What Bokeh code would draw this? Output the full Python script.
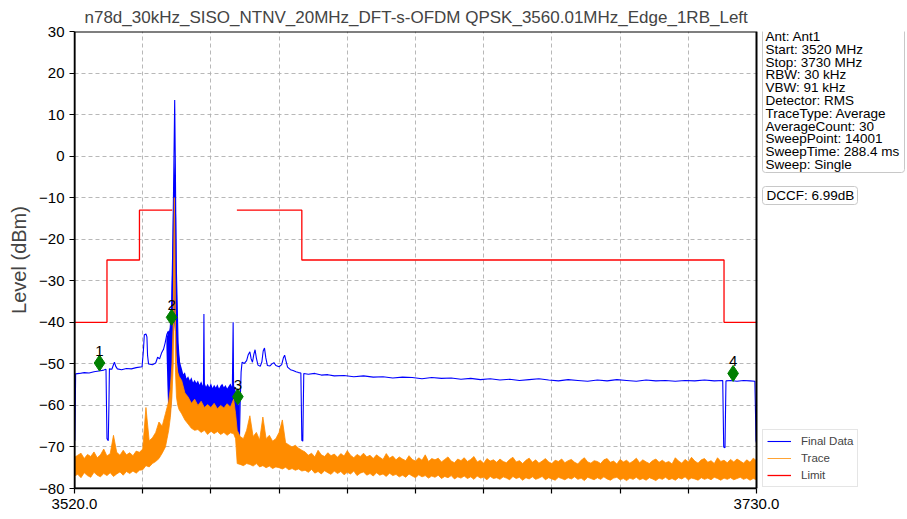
from bokeh.plotting import figure
from bokeh.models import FixedTicker, Legend, LegendItem, Label, Range1d, BoxAnnotation
from bokeh.core.properties import value
from bokeh.embed import file_html
from bokeh.resources import INLINE

FONT = "Liberation Sans"
TITLE = "n78d_30kHz_SISO_NTNV_20MHz_DFT-s-OFDM QPSK_3560.01MHz_Edge_1RB_Left"

x_ticks = [3520, 3541, 3562, 3583, 3604, 3625, 3646, 3667, 3688, 3709, 3730]
x_tick_labels = ["3520.0", "", "", "", "", "", "", "", "", "", "3730.0"]
y_ticks = [-80, -70, -60, -50, -40, -30, -20, -10, 0, 10, 20, 30]
y_tick_labels = ["\u221280", "\u221270", "\u221260", "\u221250", "\u221240", "\u221230",
                 "\u221220", "\u221210", "0", "10", "20", "30"]

info_lines = ["Ant: Ant1", "Start: 3520 MHz", "Stop: 3730 MHz", "RBW: 30 kHz", "VBW: 91 kHz",
              "Detector: RMS", "TraceType: Average", "AverageCount: 30", "SweepPoint: 14001",
              "SweepTime: 288.4 ms", "Sweep: Single"]
dccf_text = "DCCF: 6.99dB"

# Limit line (gap over the channel)
limit_f = [3520, 3530, 3530, 3540, 3540, 3550.1, float("nan"), 3570, 3590, 3590, 3720, 3720, 3730]
limit_lvl = [-40, -40, -25, -25, -13, -13, float("nan"), -13, -13, -25, -25, -40, -40]

# Final Data (blue) line
blue_f = [3520.0, 3520.1, 3520.25, 3520.35, 3521.5, 3523, 3524.5, 3526, 3527.5, 3529, 3529.7, 3529.85,
          3530.0, 3530.4, 3530.6, 3530.75, 3531.5, 3532.0, 3532.3, 3532.7, 3533.2, 3534.5, 3536,
          3537.5, 3539, 3540.8, 3541.2, 3541.5, 3542.0, 3542.3, 3542.5, 3542.8, 3544.0, 3545.0,
          3545.6, 3546.2, 3546.8, 3547.4, 3547.9, 3548.4, 3548.8, 3549.2, 3549.5, 3549.9, 3550.3,
          3550.6, 3550.85, 3551.05, 3551.3, 3551.6, 3551.9, 3552.2, 3552.6, 3553.5, 3555, 3557,
          3559.0, 3559.7, 3559.85, 3560.0, 3562, 3564, 3566, 3568.6, 3568.85, 3569.0, 3569.6,
          3570.0, 3570.3, 3570.8, 3571.0, 3571.3, 3571.6, 3572.3, 3573.0, 3573.5, 3574.0, 3574.4,
          3574.8, 3575.2, 3575.6, 3576.0, 3576.5, 3577.2, 3577.7, 3578.1, 3578.5, 3578.9, 3579.4,
          3580.2, 3580.8, 3581.4, 3582.0, 3583.0, 3583.8, 3584.3, 3584.7, 3585.1, 3585.6, 3586.5,
          3587.3, 3588.2, 3589.0, 3589.7, 3589.85, 3590.0, 3590.3, 3590.45, 3590.6, 3592, 3594,
          3596, 3598, 3600, 3603, 3606, 3609, 3612, 3615, 3618, 3621, 3624, 3627, 3630, 3633, 3636,
          3639, 3642, 3645, 3648, 3651, 3654, 3657, 3660, 3663, 3666, 3669, 3672, 3675, 3678, 3681,
          3684, 3687, 3690, 3693, 3696, 3699, 3702, 3705, 3708, 3711, 3714, 3717, 3719.6, 3719.75,
          3719.9, 3720.3, 3720.45, 3720.6, 3722, 3724, 3726, 3728, 3729.5, 3729.7, 3729.85, 3730]
blue_lvl = [-66.0, -68.5, -60, -52.4, -52.3, -52.1, -52.2, -51.9, -51.7, -51.5, -51.3, -60,
            -68, -68.5, -60, -51.2, -51.3, -50.2, -49.6, -50.6, -51.2, -51.4, -51.1,
            -51.2, -50.9, -50.7, -47, -43, -42.8, -43.5, -48, -50, -50.2, -49.8,
            -48.4, -48.8, -47.4, -46.5, -45, -43, -42.2, -44.5, -41, -36, -20,
            -2, 13.5, -2, -25, -35, -45, -48.5, -52, -54, -55, -56,
            -55.5, -56, -38, -56, -56.5, -57, -57, -56, -40, -57, -58,
            -66, -68.4, -68, -60, -52, -49.6, -49.9, -49.2, -47.8, -47.1, -48.8,
            -49.6, -47.8, -46.6, -48.6, -50.3, -50.6, -49.5, -46.9, -46.2, -48.5, -50.4,
            -50.5, -50.0, -49.7, -50.4, -50.7, -50.2, -48.6, -47.9, -49.2, -50.8, -51.4,
            -51.6, -51.9, -52.1, -52.2, -60, -68.4, -68.6, -60, -52.3, -52.5, -52.3,
            -52.7, -52.6, -52.9, -52.8, -53.1, -52.9, -53.2, -53.1, -53.4, -53.2, -53.3, -53.6, -53.3, -53.5, -53.4,
            -53.7, -53.5, -53.8, -53.6, -53.9, -53.7, -54.0, -53.8, -53.6, -53.9, -54.1, -53.8, -54.0, -54.2, -53.9,
            -54.1, -53.8, -54.0, -54.2, -53.9, -54.1, -54.0, -54.2, -54.0, -54.1, -53.9, -54.1, -54.0, -62,
            -70, -70.2, -62, -54.1, -54.0, -54.2, -54.0, -54.1, -54.2, -62, -68.5, -69]

# Final Data noisy envelope regions (blue)
bband_f = [3548.3, 3548.6, 3548.9, 3549.2, 3549.5, 3549.8, 3550.1, 3550.4, 3550.85, 3551.3, 3551.6,
           3551.9, 3552.2, 3552.6, 3553.0, 3553.5, 3554, 3554.5, 3555, 3555.5, 3556, 3556.5, 3557,
           3557.5, 3558, 3558.5, 3559, 3559.5, 3560, 3560.5, 3561, 3561.5, 3562, 3562.5, 3563,
           3563.5, 3564, 3564.5, 3565, 3565.5, 3566, 3566.5, 3567, 3567.5, 3568, 3568.5, 3569,
           3569.5, 3570, 3570.5, 3570.9]
bband_hi = [-44, -43, -42, -42, -41, -38, -25, -10, 0, -15, -35,
            -45, -48, -50, -51, -52.5, -52, -53.5, -53, -54, -53.2, -54.5, -53.8,
            -54.6, -54, -55, -54.2, -55.2, -54.5, -55.5, -54.8, -55.6, -54.6, -55.8, -55,
            -55.7, -54.9, -55.9, -55.2, -54.8, -55.6, -55.1, -55.9, -55.3, -54.7, -55.5, -55,
            -56, -58, -60, -58]
bband_lo = [-46, -55, -62, -58, -63, -60, -52, -45, -40, -48, -50,
            -55, -58, -60, -59, -60.5, -59.5, -61, -60, -61.5, -60.5, -61, -62,
            -60.8, -61.4, -62, -61, -61.8, -60.6, -62.3, -61.2, -61.8, -60.9, -62, -61.3,
            -62.4, -61, -61.7, -62.2, -61.1, -62, -61.4, -62.3, -61.2, -61.8, -62, -63,
            -66, -68, -68.5, -68]

# Trace (orange) envelope
orange_f = [3520, 3521, 3522, 3523, 3524, 3525, 3526, 3527, 3528, 3529, 3530, 3531, 3532, 3533, 3534,
            3535, 3536, 3537, 3538, 3539, 3540, 3541, 3542, 3543, 3544, 3545, 3546, 3547, 3548,
            3548.5, 3549, 3549.5, 3550.0, 3550.4, 3550.6, 3550.75, 3550.9, 3551.1, 3551.4, 3551.8,
            3552.2, 3553,
            3554, 3555, 3556, 3557, 3558, 3559, 3560, 3561, 3562, 3563, 3564, 3565, 3566, 3567,
            3568, 3569, 3569.6, 3570.1, 3571, 3572, 3573, 3574, 3575, 3576, 3577, 3578, 3579,
            3580, 3581, 3582, 3583, 3584, 3585, 3586, 3587, 3588, 3589, 3590] + \
           [3591, 3592, 3593, 3594, 3595, 3596, 3597, 3598, 3599, 3600,
            3601, 3602, 3603, 3604, 3605, 3606, 3607, 3608, 3609, 3610,
            3611, 3612, 3613, 3614, 3615, 3616, 3617, 3618, 3619, 3620,
            3621, 3622, 3623, 3624, 3625, 3626, 3627, 3628, 3629, 3630,
            3631, 3632, 3633, 3634, 3635, 3636, 3637, 3638, 3639, 3640,
            3641, 3642, 3643, 3644, 3645, 3646, 3647, 3648, 3649, 3650,
            3651, 3652, 3653, 3654, 3655, 3656, 3657, 3658, 3659, 3660,
            3661, 3662, 3663, 3664, 3665, 3666, 3667, 3668, 3669, 3670,
            3671, 3672, 3673, 3674, 3675, 3676, 3677, 3678, 3679, 3680,
            3681, 3682, 3683, 3684, 3685, 3686, 3687, 3688, 3689, 3690,
            3691, 3692, 3693, 3694, 3695, 3696, 3697, 3698, 3699, 3700,
            3701, 3702, 3703, 3704, 3705, 3706, 3707, 3708, 3709, 3710,
            3711, 3712, 3713, 3714, 3715, 3716, 3717, 3718, 3719, 3720,
            3721, 3722, 3723, 3724, 3725, 3726, 3727, 3728, 3729, 3730]
orange_hi = [-72.5, -72, -71.5, -72.8, -71.8, -72.3, -71.2, -72.6, -71.9, -70.5, -72.2, -71.6, -67.2,
             -71.3, -72, -70.8, -71.9, -71.4, -72.1, -71, -71.3, -70.5, -60.5, -68.5, -67.8, -66.5,
             -64, -65, -62, -60.5, -59, -56, -50, -40, -20, -10, -20, -42, -50, -52,
             -53, -54,
             -57, -58, -59.5, -58.5, -60, -59, -60.5, -59.8, -60.5, -59.5, -60.8, -60, -60.6, -59.6,
             -60.4, -58.5, -62, -66, -67.5, -68, -66, -62.5, -67.5, -66.5, -68.3, -62.8, -68,
             -67.2, -68.6, -68, -66.5, -63.5, -69, -69.5, -70, -69.6, -70.3, -70.8] + \
            [-71.2, -72.0, -71.5, -72.4, -70.8, -71.9, -72.3, -71.4, -72.1, -71.7,
             -72.5, -71.6, -72.2, -70.9, -72.0, -72.6, -71.8, -72.3, -71.5, -72.4,
             -72.0, -72.8, -71.9, -72.5, -73.0, -71.6, -72.7, -72.2, -73.1, -72.4,
             -72.9, -73.3, -72.1, -73.0, -73.4, -72.6, -73.2, -71.9, -73.5, -72.8,
             -73.1, -72.7, -73.6, -73.0, -72.4, -73.4, -73.8, -72.9, -73.3, -72.6,
             -73.5, -73.0, -72.3, -73.6, -73.2, -73.9, -72.8, -73.4, -73.1, -73.7,
             -72.9, -73.5, -73.8, -73.0, -72.5, -73.6, -73.3, -74.0, -73.2, -72.7,
             -73.7, -73.1, -73.9, -73.4, -72.8, -73.6, -74.0, -73.2, -73.5, -72.9,
             -73.8, -73.3, -73.0, -73.7, -74.1, -73.2, -72.6, -73.6, -73.9, -73.3,
             -73.5, -74.0, -73.1, -72.8, -73.7, -73.4, -74.1, -73.0, -73.6, -73.2,
             -73.9, -73.4, -72.7, -73.8, -73.1, -73.6, -74.0, -73.3, -72.9, -73.7,
             -73.2, -73.8, -73.5, -74.1, -72.6, -73.4, -73.9, -73.0, -73.6, -72.5,
             -73.4, -73.9, -73.1, -72.8, -73.7, -73.3, -74.0, -72.6, -73.5, -73.2,
             -73.8, -73.0, -73.6, -72.9, -73.4, -73.9, -73.1, -73.7, -72.7, -73.3]
orange_lo = [-77, -76.6, -77.4, -76.2, -76.9, -77.3, -76.1, -76.8, -77.2, -76.4, -76.9, -76.2, -77.1,
             -76.5, -76, -76.8, -75.9, -76.4, -75.8, -76.3, -75.6, -75.5, -74.5, -74.8, -74, -73.5,
             -72.8, -71.5, -70, -68, -66, -63, -58, -50, -35, -25, -35, -52, -58, -60,
             -61, -62,
             -63.5, -64.5, -65.5, -66, -65.8, -66.5, -66, -67, -66.2, -66.8, -66.3, -67, -66.5, -67.2,
             -66.6, -66.8, -68, -74, -74.2, -74.5, -74, -74.2, -74.6, -74, -74.8, -74.5, -75,
             -74.6, -75.2, -74.8, -75, -75.3, -74.9, -75.5, -75.2, -75.6, -75.3, -75.8] + \
            [-75.6, -76.1, -75.4, -76.3, -75.9, -76.5, -75.7, -76.2, -76.6, -75.8,
             -76.4, -75.9, -76.7, -76.1, -76.5, -75.8, -76.9, -76.3, -76.0, -76.8,
             -76.4, -77.0, -76.2, -76.8, -76.5, -77.1, -76.3, -76.9, -76.6, -77.2,
             -76.8, -77.3, -76.5, -77.0, -77.4, -76.7, -77.2, -76.9, -77.5, -77.0,
             -77.3, -76.8, -77.6, -77.1, -77.4, -76.9, -77.7, -77.2, -77.5, -77.0,
             -77.6, -77.2, -77.8, -77.0, -77.5, -77.3, -77.9, -77.1, -77.6, -77.4,
             -77.8, -77.2, -77.5, -77.9, -77.1, -77.6, -77.3, -78.0, -77.4, -77.7,
             -77.2, -77.8, -77.5, -77.1, -77.9, -77.4, -77.7, -78.0, -77.3, -77.6,
             -77.9, -77.4, -77.7, -77.2, -77.8, -77.5, -78.1, -77.3, -77.6, -77.9,
             -77.4, -77.8, -77.2, -77.7, -78.0, -77.5, -77.3, -77.9, -77.6, -78.1,
             -77.5, -77.8, -77.3, -77.9, -77.6, -78.0, -77.4, -77.7, -78.1, -77.5,
             -77.8, -77.3, -77.9, -77.6, -78.0, -77.4, -77.7, -77.2, -77.9, -77.5,
             -77.7, -78.0, -77.4, -77.8, -77.5, -77.9, -77.3, -77.6, -78.0, -77.5,
             -77.8, -77.4, -77.9, -77.6, -77.3, -77.8, -77.5, -78.0, -77.6, -77.9]

marker_f = [3527.7, 3549.9, 3570.3, 3722.8]
marker_lvl = [-49.8, -38.8, -57.9, -52.3]
marker_lbl = ["1", "2", "3", "4"]

# ---- layout (pixels) ----
W, H = 906, 518
FL, FT, FB = 74, 31, 488          # frame left / top / bottom in page pixels
PLOT_R = 756                      # right edge of the data area (3730 MHz)
FR = 905                          # frame right (frame also hosts the side boxes)
X0, X1 = x_ticks[0], x_ticks[-1]
x_end = X0 + (X1 - X0) * (FR - FL) / (PLOT_R - FL)
px_per_mhz = (PLOT_R - FL) / (X1 - X0)
px_per_db = (FB - FT) / (y_ticks[-1] - y_ticks[0])


def xd(px):
    return X0 + (px - FL) / px_per_mhz


def yd(py):
    return y_ticks[-1] - (py - FT) / px_per_db


p = figure(width=W, height=H, output_backend="svg", toolbar_location=None,
           x_range=Range1d(X0, x_end), y_range=Range1d(y_ticks[0], y_ticks[-1]),
           min_border_left=FL, min_border_right=W - FR, min_border_top=FT, min_border_bottom=H - FB)
p.background_fill_color = "white"
p.border_fill_color = "white"
p.outline_line_color = None

p.title.text = TITLE
p.title.align = "left"
p.title.offset = 10
p.title.text_font = FONT
p.title.text_font_size = "17px"
p.title.text_font_style = "normal"
p.title.standoff = 10

p.xaxis.ticker = FixedTicker(ticks=x_ticks)
p.xaxis.major_label_overrides = {t: l for t, l in zip(x_ticks, x_tick_labels)}
p.xaxis.bounds = (X0, X1)
p.yaxis.ticker = FixedTicker(ticks=y_ticks)
p.yaxis.major_label_overrides = {t: l for t, l in zip(y_ticks, y_tick_labels)}
p.yaxis.axis_label = "Level (dBm)"
p.yaxis.axis_label_text_font = FONT
p.yaxis.axis_label_text_font_size = "20px"
p.yaxis.axis_label_text_font_style = "normal"
p.yaxis.axis_label_standoff = 6
for ax in (p.xaxis, p.yaxis):
    ax.major_label_text_font = FONT
    ax.major_label_text_font_size = "15px"
    ax.major_label_text_color = "black"
    ax.major_tick_in = 0
    ax.major_tick_out = 5
    ax.minor_tick_line_color = None
    ax.axis_line_color = "black"
    ax.axis_line_width = 1.5
    ax.major_tick_line_color = "black"
    ax.major_tick_line_width = 1.2
p.xaxis.major_label_standoff = 5
p.yaxis.major_label_standoff = 5

p.xgrid.ticker = FixedTicker(ticks=x_ticks)
p.ygrid.ticker = FixedTicker(ticks=y_ticks)
for g in (p.xgrid, p.ygrid):
    g.grid_line_color = "#b0b0b0"
    g.grid_line_dash = "4 3"
    g.grid_line_width = 0.9

p.varea(x=bband_f, y1=bband_lo, y2=bband_hi, fill_color="blue", fill_alpha=1.0)
r_blue = p.line(blue_f, blue_lvl, line_color="blue", line_width=1.1)
p.varea(x=orange_f, y1=orange_lo, y2=orange_hi, fill_color="darkorange", fill_alpha=1.0)
r_orange = p.line(orange_f, orange_hi, line_color="darkorange", line_width=0.8)
p.line(orange_f, orange_lo, line_color="darkorange", line_width=0.8)
r_limit = p.line(limit_f, limit_lvl, line_color="red", line_width=1.3)

p.scatter(marker_f, marker_lvl, marker="diamond", size=16, color="green")
p.text(x=marker_f, y=marker_lvl, text=marker_lbl, text_align="center", text_baseline="bottom",
       y_offset=-7, text_font=value(FONT), text_font_size="15px", text_color="black")

# white side area (right of the data area) and the data-area frame
p.add_layout(BoxAnnotation(left=X1 + 0.25, fill_color="white", fill_alpha=1.0, line_alpha=0))
p.add_layout(BoxAnnotation(left=X0, right=X1, bottom=y_ticks[0], top=y_ticks[-1], fill_alpha=0,
                           line_color="black", line_width=2, line_alpha=1.0))

legend = Legend(items=[LegendItem(label="Final Data", renderers=[r_blue]),
                       LegendItem(label="Trace", renderers=[r_orange]),
                       LegendItem(label="Limit", renderers=[r_limit])],
                location=(762 - FL, FB - 487))
legend.label_text_font = FONT
legend.label_text_font_size = "11.5px"
legend.glyph_width = 24
legend.glyph_height = 14
legend.label_height = 14
legend.spacing = 3
legend.padding = 4
legend.margin = 0
legend.label_standoff = 10
legend.border_line_color = "#cccccc"
legend.background_fill_alpha = 1.0
p.add_layout(legend)

# info box
p.add_layout(BoxAnnotation(left=xd(762), right=xd(904), top=yd(28), bottom=yd(172),
                           fill_color="white", fill_alpha=1.0, line_color="#c8c8c8", line_width=1,
                           line_alpha=1.0, border_radius=3))
for i, line in enumerate(info_lines):
    p.add_layout(Label(x=xd(765), y=yd(36 + i * 12.8), text=line, text_align="left",
                       text_baseline="middle", text_font=FONT, text_font_size="13.5px",
                       text_color="black"))
# DCCF box
p.add_layout(BoxAnnotation(left=xd(762), right=xd(857), top=yd(186), bottom=yd(204),
                           fill_color="white", fill_alpha=1.0, line_color="#c8c8c8", line_width=1,
                           line_alpha=1.0, border_radius=3))
p.add_layout(Label(x=xd(766), y=yd(195), text=dccf_text, text_align="left", text_baseline="middle",
                   text_font=FONT, text_font_size="13.5px", text_color="black"))

open("out.html", "w").write(file_html(p, INLINE))
